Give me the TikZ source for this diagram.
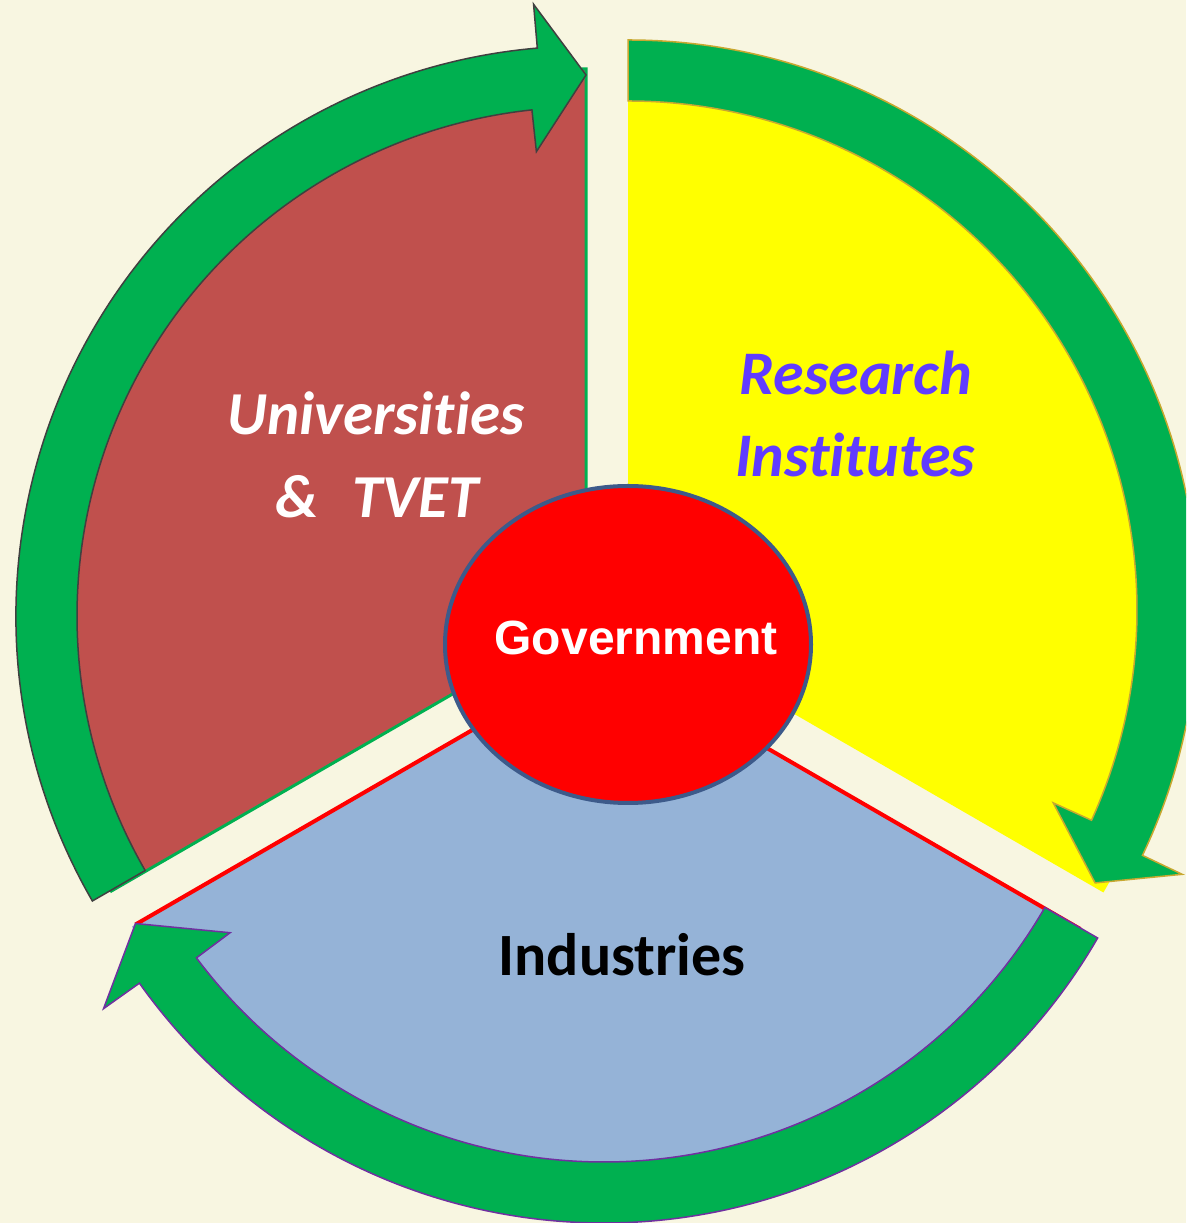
\documentclass[tikz,border=0pt]{standalone}
\usepackage{fontspec}
\usetikzlibrary{shapes.geometric}
\newfontfamily\carlito[Ligatures={NoCommon}]{Carlito}
\newfontfamily\libsans{Liberation Sans}
\definecolor{bgc}{RGB}{248,246,225}
\definecolor{grn}{RGB}{0,176,80}
\definecolor{redsec}{RGB}{192,80,77}
\definecolor{bluesec}{RGB}{149,179,215}
\definecolor{yelsec}{RGB}{255,255,0}
\definecolor{redline}{RGB}{255,0,0}
\definecolor{ellblue}{RGB}{61,90,138}
\definecolor{purptext}{RGB}{96,60,255}
\definecolor{goldline}{RGB}{200,168,48}
\definecolor{purpline}{RGB}{112,48,160}
\definecolor{greyline}{RGB}{64,64,64}
% #1 style, #2 centre, #3 tail angle, #4 outer head-base angle, #5 inner head-base angle, #6 tip angle
\newcommand{\mybentarrow}[6]{%
  \begin{scope}[shift={#2}]
    \draw[#1] (#3:570pt) arc[start angle=#3, end angle=#4, radius=570pt]
      -- (#4:614pt) -- (#6:541pt) -- (#5:467pt) -- (#5:509pt)
      arc[start angle=#5, end angle=#3, radius=509pt] -- cycle;
  \end{scope}}
\tikzset{
  arrowfill/.style={fill=grn, line width=1.5pt, line join=miter},
  sectortext/.style={anchor=base, font=\carlito\bfseries\itshape\fontsize{61}{72}\selectfont},
  restext/.style={anchor=base, text=purptext, font=\carlito\bfseries\itshape\fontsize{62}{72}\selectfont},
}
\begin{document}
\begin{tikzpicture}
\useasboundingbox (0,0) rectangle (1186pt,1223pt);
\clip (0,0) rectangle (1186pt,1223pt);
\fill[bgc] (0,0) rectangle (1186pt,1223pt);

% sectors
\fill[bluesec] (604pt,569pt) -- ++(210:545pt) arc[start angle=210, end angle=330, radius=545pt] -- cycle;
\draw[redline, line width=4pt] (604pt,569pt) ++(210:541pt) -- (604pt,569pt) -- ++(330:550pt);
\fill[yelsec] (628pt,605pt) -- ++(90:549pt) arc[start angle=90, end angle=-30, radius=549pt] -- cycle;
\draw[fill=redsec, draw=grn, line width=3pt] (586pt,606pt) -- ++(90:548pt) arc[start angle=90, end angle=210, radius=548pt] -- cycle;

% curved arrows
\mybentarrow{arrowfill, draw=greyline}{(586pt,607pt)}{210}{94.9}{96.1}{90}
\mybentarrow{arrowfill, draw=goldline}{(628pt,613pt)}{90}{-25.5}{-24.4}{-30.3}
\mybentarrow{arrowfill, draw=purpline}{(604pt,570pt)}{330}{215.4}{216.8}{210}

% centre
\node[ellipse, minimum width=366pt, minimum height=317pt, inner sep=0pt, fill=redline, draw=ellblue, line width=4pt] (gov) at (628pt,578.5pt) {};
\node[anchor=base, text=white, font=\libsans\bfseries\fontsize{48}{58}\selectfont] (govtext) at (636pt,568pt) {Government};

% labels
\node[sectortext, text=white] (uni1) at (376pt,788pt) {Universities};
\node[sectortext, text=white] (uni2) at (377pt,705pt) {\&\hspace{0.55em}TVET};
\node[restext] (res1) at (856pt,828pt) {Research};
\node[restext] (res2) at (855pt,746pt) {Institutes};
\node[anchor=base, text=black, font=\carlito\bfseries\fontsize{60}{72}\selectfont] (ind) at (622pt,247pt) {Industries};
\end{tikzpicture}
\end{document}
